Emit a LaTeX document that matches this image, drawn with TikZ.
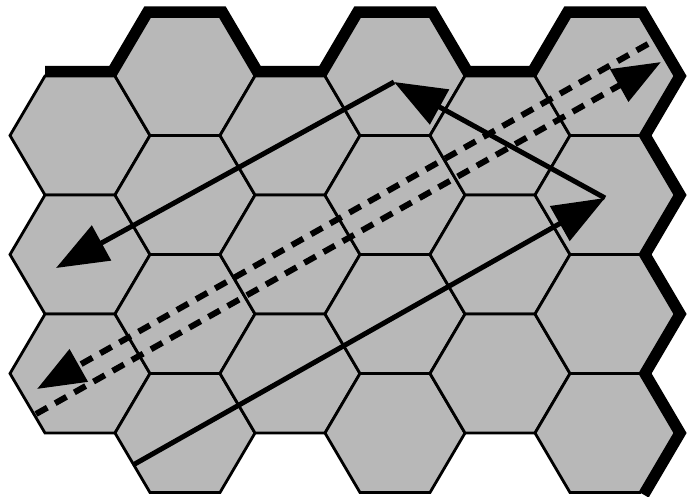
\documentclass[tikz,border=0pt]{standalone}
\usetikzlibrary{arrows.meta}
\definecolor{hexfill}{gray}{0.72}
\begin{document}
\begin{tikzpicture}[x=1pt,y=-1pt,
  hexcell/.style={fill=hexfill,draw=black,line width=2.8pt,line join=miter},
  rim/.style={draw=black,line width=20pt,line join=miter,miter limit=4},
  ray/.style={line width=5pt,-{Triangle[length=52pt,width=39pt]}},
  dray/.style={line width=6pt,dash pattern=on 13pt off 9pt,-{Triangle[length=48pt,width=36pt]}}]
\useasboundingbox (0,0) rectangle (690,497);
% thick outer rim along top and right side
\draw[rim] (45,76) -- (115,76) -- (150,16.5) -- (220,16.5) -- (255,76) -- (325,76)
  -- (360,16.5) -- (430,16.5) -- (465,76) -- (535,76) -- (570,16.5) -- (640,16.5)
  -- (675,76) -- (640,135.5) -- (675,195) -- (640,254.5) -- (675,314) -- (640,373.5)
  -- (675,433) -- (640,492.5);
% hexagon cells
\foreach \cx/\cy in {80/135.5,80/254.5,80/373.5,
  185/76,185/195,185/314,185/433,
  290/135.5,290/254.5,290/373.5,
  395/76,395/195,395/314,395/433,
  500/135.5,500/254.5,500/373.5,
  605/76,605/195,605/314,605/433}{
  \draw[hexcell] (\cx-70,\cy) -- (\cx-35,\cy-59.5) -- (\cx+35,\cy-59.5)
    -- (\cx+70,\cy) -- (\cx+35,\cy+59.5) -- (\cx-35,\cy+59.5) -- cycle;
}
% solid rays
\coordinate (a0) at (133,465);
\coordinate (a1) at (605,198);
\coordinate (a2) at (394,82);
\coordinate (a3) at (56,268);
\draw[ray] (a0) -- (a1);
\draw[ray] (a1) -- (a2);
\draw[ray] (a2) -- (a3);
% dashed rays
\coordinate (d0) at (36,414);
\coordinate (d1) at (661,62);
\coordinate (e0) at (648,44);
\coordinate (e1) at (37,389);
\draw[dray] (d0) -- (d1);
\draw[dray] (e0) -- (e1);
\end{tikzpicture}
\end{document}
